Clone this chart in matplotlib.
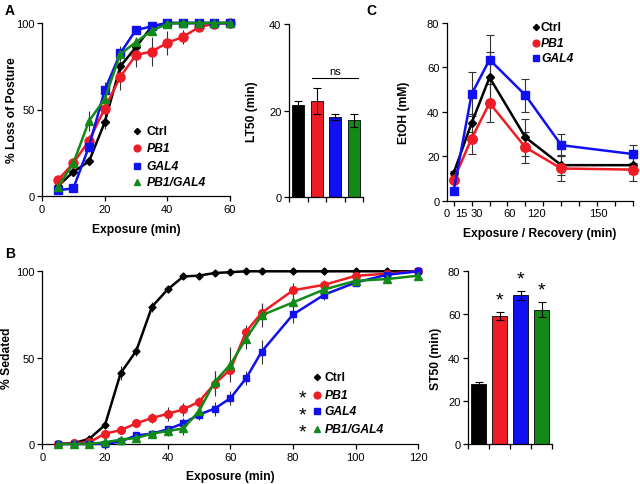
import matplotlib
matplotlib.use("Agg")
import matplotlib.pyplot as plt
import numpy as np

plt.rcParams['font.family'] = ['Liberation Sans', 'DejaVu Sans']

# ---------------- data ----------------
groups = ["Ctrl", "PB1", "GAL4", "PB1/GAL4"]
colors = ["#000000", "#ee1c25", "#1010f0", "#128a18"]
markers = ["D", "o", "s", "^"]

# Panel A: loss of posture
a_x = [5, 10, 15, 20, 25, 30, 35, 40, 45, 50, 55, 60]
a_ctrl = [5.5, 14, 20, 42.5, 75, 86, 98, 100, 100, 100, 100, 100]
a_pb1 = [9, 19, 32, 50.5, 69, 81.5, 83.5, 88.5, 92, 97.5, 99.6, 100]
a_gal4 = [3.3, 4.4, 28.6, 61, 82.6, 96, 98, 100, 100, 100, 100, 100]
a_pbgal = [5, 19, 43.4, 56, 82, 89, 95.5, 99.6, 100, 100, 100, 100]
a_ctrl_err = [0, 1.5, 2, 4, 3, 3, 1, 0, 0, 0, 0, 0]
a_pb1_err = [0, 2, 3, 4, 8, 7, 8.5, 7, 4, 2, 0, 0]
a_gal4_err = [0, 0, 3, 5, 4, 2, 1, 0, 0, 0, 0, 0]
a_pbgal_err = [0, 3, 6, 5, 4, 3, 2, 0, 0, 0, 0, 0]

# LT50
lt50 = [21.2, 22.3, 18.6, 17.8]
lt50_err = [1.0, 3.0, 0.7, 1.5]

# Panel B: sedation
b_x = [5, 10, 15, 20, 25, 30, 35, 40, 45, 50, 55, 60, 65, 70, 80, 90, 100, 110, 120]
b_ctrl = [0, 0.5, 3, 11, 41, 54, 79.5, 89.5, 97, 97.5, 99, 99.5, 100, 100, 100, 100, 100, 100, 100]
b_pb1 = [0, 0.5, 1, 6, 8, 12, 15, 17.5, 20, 24.5, 35, 43, 65, 76, 89, 92.2, 97.4, 98.6, 100]
b_gal4 = [0, 0, 0, 0, 1.5, 5, 6, 8.5, 12, 17, 20.5, 26.5, 38, 53.5, 75, 86.5, 93.5, 98, 100]
b_pbgal = [0, 0, 0, 1, 2.5, 3.5, 6, 7.5, 9, 19, 36, 46, 61, 74.5, 82, 89.5, 94.5, 95.5, 97.5]
b_ctrl_err = [0, 0, 1, 2, 4, 3, 3, 2, 1, 1, 1, 0, 0, 0, 0, 0, 0, 0, 0]
b_pb1_err = [0, 0, 0, 1, 2, 2, 3, 4, 4, 3, 7, 4, 4, 5, 4, 3, 1, 1, 0]
b_gal4_err = [0, 0, 0, 0, 1, 1, 2, 2, 3, 3, 4, 4, 4, 7, 5, 3, 2, 1, 0]
b_pbgal_err = [0, 0, 0, 1, 1, 2, 2, 3, 4, 4, 6, 10, 6, 7, 4, 3, 2, 2, 1]

# ST50
st50 = [27.8, 59.3, 68.8, 62.3]
st50_err = [1.0, 2.0, 2.0, 3.5]

# Panel C: EtOH
c_x = [0, 15, 30, 60, 90, 150]
c_ctrl = [12.5, 35, 55.5, 28.5, 16, 16]
c_pb1 = [9.5, 28, 44, 24, 14.5, 14]
c_gal4 = [4.5, 48, 63.5, 47.5, 25, 21]
c_ctrl_err = [1, 4, 11.5, 8.5, 4.5, 4]
c_pb1_err = [1, 7, 8.5, 7, 5.5, 5]
c_gal4_err = [1, 10, 11, 7.5, 5, 4]
c_tick_pos = [-5.6, 6.5, 19.4, 46.8, 69.4, 121]
c_tick_lab = ["0", "15", "30", "60", "120", "150"]

# ---------------- figure ----------------
W, H = 640, 485
fig = plt.figure(figsize=(W / 100, H / 100), dpi=100)

def ax_px(l, r, t, b):
    return fig.add_axes([l / W, 1 - b / H, (r - l) / W, (b - t) / H])

TICK_FS = 8
LAB_FS = 8.7

def style(ax):
    for s in ["top", "right"]:
        ax.spines[s].set_visible(False)
    for s in ["left", "bottom"]:
        ax.spines[s].set_linewidth(0.9)
    ax.tick_params(direction="out", length=3.5, width=0.9, labelsize=TICK_FS, pad=2)

msz = [4.2, 6.5, 5.8, 6.3]

def lines(ax, x, ys, errs, idxs, capsize=0, ms_scale=1.0):
    for y, e, i in zip(ys, errs, idxs):
        ax.errorbar(x, y, yerr=e, fmt="none", ecolor="#333333", elinewidth=0.8,
                    capsize=capsize, capthick=0.8, zorder=2 + i * 0.1, clip_on=False)
        ax.plot(x, y, color=colors[i], lw=1.8, marker=markers[i],
                ms=msz[i] * ms_scale, mec=colors[i], zorder=3 + i * 0.1, clip_on=False)

def legend(ax, x_m, x_t, ys, idxs, stars=None, fs=8.7, ms_scale=0.75):
    for y, i in zip(ys, idxs):
        ax.plot([x_m], [y], marker=markers[i], color=colors[i], ms=msz[i] * ms_scale,
                transform=ax.transAxes, clip_on=False, ls="none")
        ax.text(x_t, y, groups[i], transform=ax.transAxes, fontsize=fs,
                fontweight="bold", style="normal" if i == 0 else "italic",
                va="center", ha="left")
        if stars is not None and i > 0:
            ax.text(stars, y - 0.02, "*", transform=ax.transAxes, fontsize=14,
                    va="center", ha="center")

# ---- Panel A line
axA = ax_px(42, 230, 24, 197)
style(axA)
lines(axA, a_x, [a_ctrl, a_pb1, a_gal4, a_pbgal],
      [a_ctrl_err, a_pb1_err, a_gal4_err, a_pbgal_err], [0, 1, 2, 3])
axA.set_xlim(0, 60)
axA.set_ylim(0, 100)
axA.set_xticks([0, 20, 40, 60])
axA.set_yticks([0, 50, 100])
axA.set_xlabel("Exposure (min)", fontsize=LAB_FS, fontweight="bold", labelpad=7)
axA.set_ylabel("% Loss of Posture", fontsize=LAB_FS, fontweight="bold")
axA.yaxis.set_label_coords(-0.128, 0.5)
legend(axA, 0.505, 0.555, [0.377, 0.277, 0.175, 0.079], [0, 1, 2, 3])

# ---- LT50 bars
axL = ax_px(289, 363, 25, 198)
style(axL)
bx = np.arange(len(lt50))
axL.bar(bx, lt50, width=0.66, color=colors, edgecolor="black", linewidth=0.6,
        yerr=lt50_err, capsize=3, error_kw=dict(elinewidth=0.8, capthick=0.8))
axL.set_xlim(-0.5, 3.5)
axL.set_ylim(0, 40)
axL.set_yticks([0, 20, 40])
axL.set_xticks([-0.5, 0.5, 1.5, 2.5, 3.5])
axL.set_xticklabels([])
axL.set_ylabel("LT50 (min)", fontsize=LAB_FS, fontweight="bold")
axL.yaxis.set_label_coords(-0.42, 0.5)
axL.plot([0.75, 3.25], [27.4, 27.4], color="black", lw=0.8)
axL.text(2.0, 27.9, "ns", ha="center", va="bottom", fontsize=8)

# ---- Panel C
axC = ax_px(447, 633, 24, 201.7)
style(axC)
lines(axC, c_x, [c_ctrl, c_pb1, c_gal4], [c_ctrl_err, c_pb1_err, c_gal4_err],
      [0, 1, 2], capsize=3, ms_scale=1.05)
axC.set_xlim(0, 150)
axC.set_ylim(0, 80)
axC.set_yticks([0, 20, 40, 60, 80])
axC.set_xticks(c_tick_pos)
axC.set_xticklabels(c_tick_lab)
axC.set_xticks(np.arange(0, 151, 15), minor=True)
axC.tick_params(axis="x", which="major", length=0, pad=5.5)
axC.tick_params(axis="x", which="minor", direction="out", length=3.5, width=0.9)
axC.set_xlabel("Exposure / Recovery (min)", fontsize=LAB_FS, fontweight="bold", labelpad=6)
axC.set_ylabel("EtOH (mM)", fontsize=LAB_FS, fontweight="bold")
axC.yaxis.set_label_coords(-0.199, 0.5)
legend(axC, 0.476, 0.505, [0.980, 0.890, 0.802], [0, 1, 2])

# ---- Panel B
axB = ax_px(42.3, 418.4, 272.3, 445)
style(axB)
lines(axB, b_x, [b_ctrl, b_pb1, b_gal4, b_pbgal],
      [b_ctrl_err, b_pb1_err, b_gal4_err, b_pbgal_err], [0, 1, 2, 3], ms_scale=0.85)
axB.set_xlim(0, 120)
axB.set_ylim(0, 100)
axB.set_xticks([0, 20, 40, 60, 80, 100, 120])
axB.set_yticks([0, 50, 100])
axB.set_xlabel("Exposure (min)", fontsize=LAB_FS, fontweight="bold", labelpad=6)
axB.set_ylabel("% Sedated", fontsize=LAB_FS, fontweight="bold")
axB.yaxis.set_label_coords(-0.078, 0.5)
legend(axB, 0.7296, 0.750, [0.386, 0.285, 0.189, 0.087], [0, 1, 2, 3], stars=0.691)

# ---- ST50 bars
axS = ax_px(468, 552, 272.3, 445)
style(axS)
axS.bar(bx, st50, width=0.72, color=colors, edgecolor="black", linewidth=0.6,
        yerr=st50_err, capsize=3, error_kw=dict(elinewidth=0.8, capthick=0.8))
axS.set_xlim(-0.5, 3.5)
axS.set_ylim(0, 80)
axS.set_yticks([0, 20, 40, 60, 80])
axS.set_xticks([-0.5, 0.5, 1.5, 2.5, 3.5])
axS.set_xticklabels([])
axS.set_ylabel("ST50 (min)", fontsize=LAB_FS, fontweight="bold")
axS.yaxis.set_label_coords(-0.31, 0.5)
for i in range(1, 4):
    axS.text(bx[i], st50[i] + st50_err[i] + 1.5, "*", ha="center", va="bottom", fontsize=14)

# panel letters
fig.text(5 / W, 1 - 11 / H, "A", fontsize=10, fontweight="bold", va="center")
fig.text(5 / W, 1 - 254 / H, "B", fontsize=10, fontweight="bold", va="center")
fig.text(366 / W, 1 - 11 / H, "C", fontsize=10, fontweight="bold", va="center")

fig.savefig("out.png", dpi=100)
